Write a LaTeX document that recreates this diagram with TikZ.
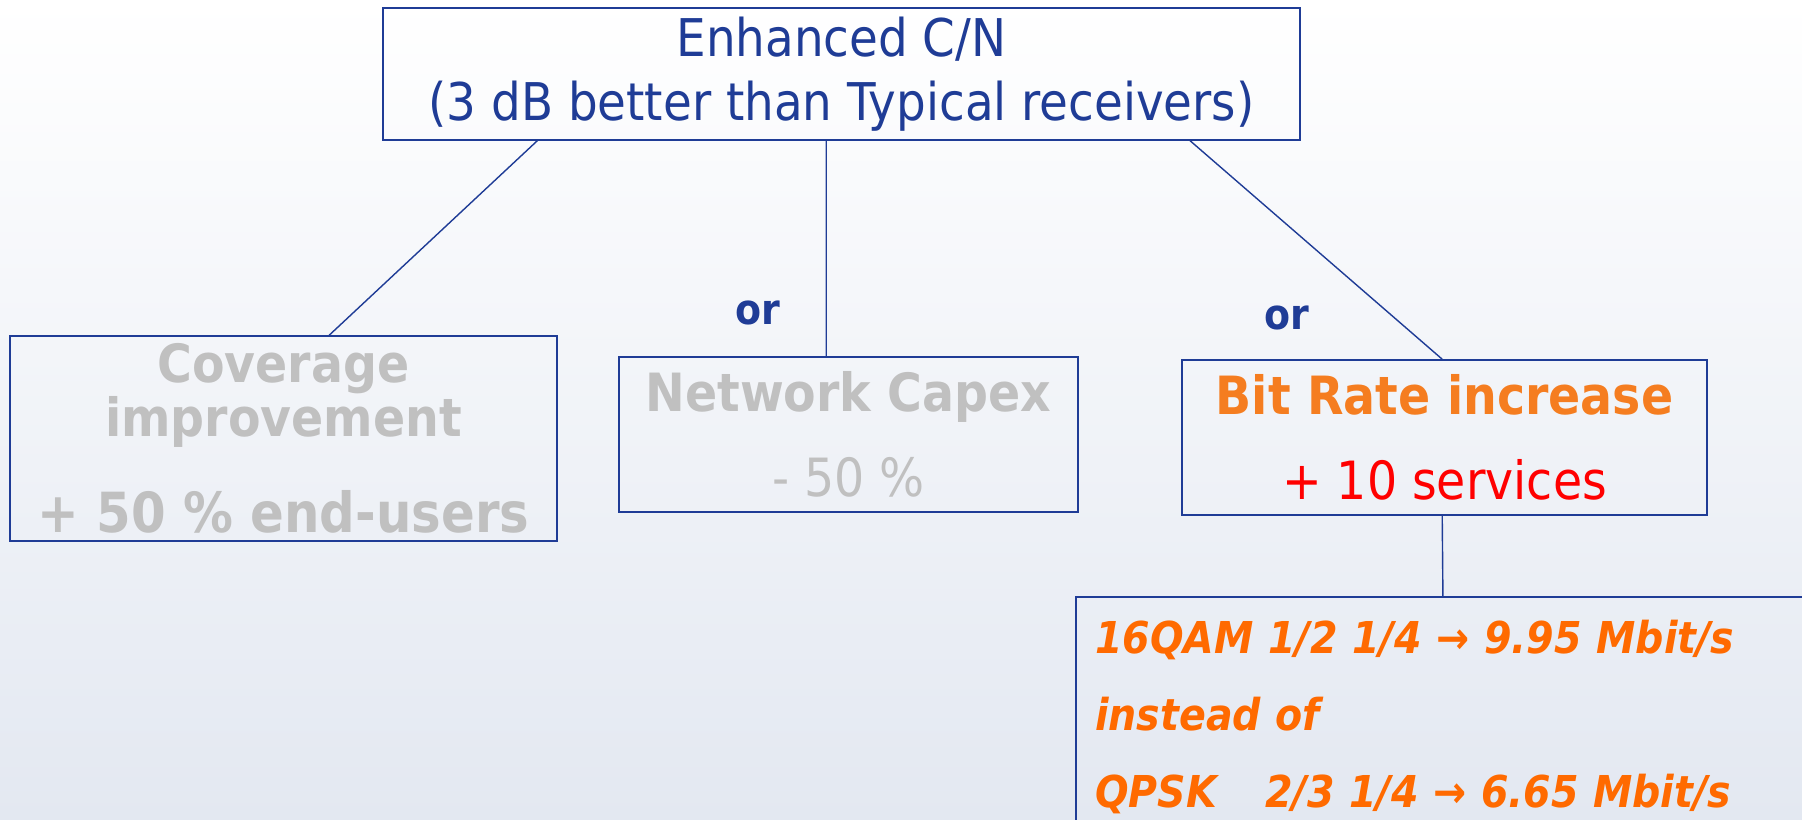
\documentclass[tikz,border=0pt]{standalone}
\usepackage{fontspec}
\setmainfont{DejaVu Sans}[FakeStretch=0.9]
\usetikzlibrary{positioning}
\definecolor{CnNavy}{HTML}{1F3C96}
\definecolor{CnGrey}{HTML}{C0C0C0}
\definecolor{CnOrange}{HTML}{F57D20}
\definecolor{CnRed}{HTML}{FF0000}
\definecolor{CnAmber}{HTML}{FF6A00}
\definecolor{CnSky}{HTML}{E3E8F1}

\begin{document}
\begin{tikzpicture}[x=0.02cm,y=-0.02cm,
    box/.style={
      draw=CnNavy,
      line width=0.9pt,
      align=center,
      inner sep=0pt
    },
    link/.style={
      draw=CnNavy,
      line width=0.8pt
    },
    orlabel/.style={
      text=CnNavy,
      font=\fontsize{24}{28}\selectfont\bfseries
    }]

    % Page frame and light background
    \useasboundingbox (0,0) rectangle (1802,820);
    \clip (0,0) rectangle (1802,820);
    \shade[top color=white, bottom color=CnSky] (0,0) rectangle (1802,820);

    % Root: Enhanced C/N
    \node[box, minimum width=18.34cm, minimum height=2.64cm, text=CnNavy,
          font=\fontsize{29.6}{36.4}\selectfont] (cn) at (841.5,74)
      {Enhanced C/N\\(3 dB better than Typical receivers)};

    % Three options
    \node[box, minimum width=10.94cm, minimum height=4.1cm, text=CnGrey,
          font=\fontsize{30}{27}\selectfont\bfseries] (cov) at (283.5,438.5)
      {Coverage\\improvement\\[23.6pt]{\fontsize{31.5}{27}\selectfont + 50 \% end-users}};

    \node[box, minimum width=9.18cm, minimum height=3.1cm, text=CnGrey,
          font=\fontsize{30}{48}\selectfont] (cap) at (848.5,434.5)
      {{\bfseries Network Capex}\\- 50 \%};

    \node[box, minimum width=10.5cm, minimum height=3.1cm,
          font=\fontsize{30}{48}\selectfont] (bit) at (1444.5,437.5)
      {{\bfseries\color{CnOrange}Bit Rate increase}\\{\color{CnRed}+ 10 services}};

    \node[orlabel] (or1) at (758,313) {or};
    \node[orlabel] (or2) at (1287,318) {or};

    % Modulation detail (runs past the page edge)
    \node[box, anchor=north west, align=left, text width=15.5cm,
          inner xsep=11pt, inner ysep=13pt, text=CnAmber,
          font=\fontsize{25}{44}\selectfont\bfseries\itshape] (mod) at (1075,596)
      {16QAM 1/2 1/4 → 9.95 Mbit/s\\
       instead of\\
       \makebox[3.4cm][l]{QPSK}2/3 1/4 → 6.65 Mbit/s\rule[-3cm]{0pt}{0pt}};

    % Connectors
    \draw[link] ([xshift=3.1cm]cn.south west) -- ([xshift=6.4cm]cov.north west);
    \draw[link] ([xshift=8.88cm]cn.south west) -- ([xshift=4.16cm]cap.north west);
    \draw[link] ([xshift=16.16cm]cn.south west) -- ([xshift=5.22cm]bit.north west);
    \draw[link] ([xshift=5.22cm]bit.south west) -- ([xshift=7.36cm]mod.north west);
\end{tikzpicture}
\end{document}
